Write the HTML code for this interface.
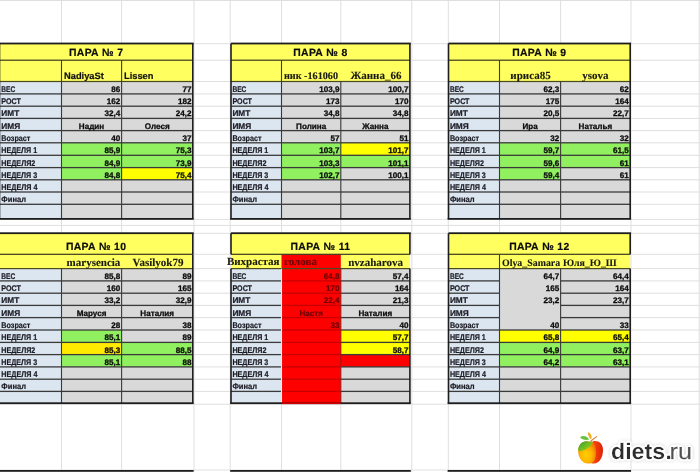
<!DOCTYPE html>
<html><head><meta charset="utf-8"><title>ПАРА</title><style>
*{margin:0;padding:0}
html,body{width:700px;height:472px;overflow:hidden;background:#fff}
svg{display:block;will-change:transform}
text{font-family:"Liberation Sans",sans-serif;text-rendering:geometricPrecision}
.ttl{font-weight:bold;font-size:10.4px;fill:#0c0c0c;letter-spacing:0.33px;stroke:#0c0c0c;stroke-width:0.2px}
.lbl{font-weight:bold;font-size:8.2px;fill:#1c1c24;stroke:#1c1c24;stroke-width:0.22px}
.num{font-weight:bold;font-size:8.1px;fill:#0c0c0c;stroke:#0c0c0c;stroke-width:0.28px}
.numr{font-weight:bold;font-size:8.1px;stroke-width:0.22px}
.nms{font-weight:bold;font-size:9.3px;fill:#111;stroke:#111;stroke-width:0.2px}
.nmr{font-family:"Liberation Serif",serif;font-weight:bold;font-size:10.2px;fill:#1a1a10;stroke:#1a1a10;stroke-width:0.12px}
.nmr2{font-family:"Liberation Serif",serif;font-weight:bold;font-size:11px;fill:#1a1a10;stroke:#1a1a10;stroke-width:0.12px}
.nmr3{font-family:"Liberation Serif",serif;font-weight:bold;font-size:9.9px;fill:#1a1a10;stroke:#1a1a10;stroke-width:0.12px}
.logo1{font-weight:bold;font-size:22.6px;fill:#2e2e2e}
.logo2{font-size:22.6px;fill:#505050;stroke:#505050;stroke-width:0.3px}
</style></head>
<body><svg width="700" height="472" viewBox="0 0 700 472">
<rect x="0" y="0" width="700" height="472" fill="#ffffff"/>
<rect x="61.00" y="0.00" width="1.00" height="472.00" fill="#dfdfdf" />
<rect x="121.10" y="0.00" width="1.00" height="472.00" fill="#dfdfdf" />
<rect x="193.50" y="0.00" width="1.00" height="472.00" fill="#dfdfdf" />
<rect x="229.70" y="0.00" width="1.00" height="472.00" fill="#dfdfdf" />
<rect x="281.00" y="0.00" width="1.00" height="472.00" fill="#dfdfdf" />
<rect x="340.30" y="0.00" width="1.00" height="472.00" fill="#dfdfdf" />
<rect x="411.30" y="0.00" width="1.00" height="472.00" fill="#dfdfdf" />
<rect x="447.80" y="0.00" width="1.00" height="472.00" fill="#dfdfdf" />
<rect x="499.00" y="0.00" width="1.00" height="472.00" fill="#dfdfdf" />
<rect x="560.10" y="0.00" width="1.00" height="472.00" fill="#dfdfdf" />
<rect x="630.50" y="0.00" width="1.00" height="472.00" fill="#dfdfdf" />
<rect x="698.70" y="0.00" width="1.00" height="472.00" fill="#dfdfdf" />
<rect x="0.00" y="0.00" width="700.00" height="1.00" fill="#dfdfdf" />
<rect x="0.00" y="43.20" width="700.00" height="1.00" fill="#dfdfdf" />
<rect x="0.00" y="59.70" width="700.00" height="1.00" fill="#dfdfdf" />
<rect x="0.00" y="81.00" width="700.00" height="1.00" fill="#dfdfdf" />
<rect x="0.00" y="93.40" width="700.00" height="1.00" fill="#dfdfdf" />
<rect x="0.00" y="105.70" width="700.00" height="1.00" fill="#dfdfdf" />
<rect x="0.00" y="117.90" width="700.00" height="1.00" fill="#dfdfdf" />
<rect x="0.00" y="130.10" width="700.00" height="1.00" fill="#dfdfdf" />
<rect x="0.00" y="142.30" width="700.00" height="1.00" fill="#dfdfdf" />
<rect x="0.00" y="154.80" width="700.00" height="1.00" fill="#dfdfdf" />
<rect x="0.00" y="167.10" width="700.00" height="1.00" fill="#dfdfdf" />
<rect x="0.00" y="179.30" width="700.00" height="1.00" fill="#dfdfdf" />
<rect x="0.00" y="191.50" width="700.00" height="1.00" fill="#dfdfdf" />
<rect x="0.00" y="203.80" width="700.00" height="1.00" fill="#dfdfdf" />
<rect x="0.00" y="218.90" width="700.00" height="1.00" fill="#dfdfdf" />
<rect x="0.00" y="224.90" width="700.00" height="1.00" fill="#dfdfdf" />
<rect x="0.00" y="232.80" width="700.00" height="1.00" fill="#dfdfdf" />
<rect x="0.00" y="253.80" width="700.00" height="1.00" fill="#dfdfdf" />
<rect x="0.00" y="268.10" width="700.00" height="1.00" fill="#dfdfdf" />
<rect x="0.00" y="280.40" width="700.00" height="1.00" fill="#dfdfdf" />
<rect x="0.00" y="292.70" width="700.00" height="1.00" fill="#dfdfdf" />
<rect x="0.00" y="304.90" width="700.00" height="1.00" fill="#dfdfdf" />
<rect x="0.00" y="317.10" width="700.00" height="1.00" fill="#dfdfdf" />
<rect x="0.00" y="329.50" width="700.00" height="1.00" fill="#dfdfdf" />
<rect x="0.00" y="341.90" width="700.00" height="1.00" fill="#dfdfdf" />
<rect x="0.00" y="354.10" width="700.00" height="1.00" fill="#dfdfdf" />
<rect x="0.00" y="366.40" width="700.00" height="1.00" fill="#dfdfdf" />
<rect x="0.00" y="378.70" width="700.00" height="1.00" fill="#dfdfdf" />
<rect x="0.00" y="390.90" width="700.00" height="1.00" fill="#dfdfdf" />
<rect x="0.00" y="403.70" width="700.00" height="1.00" fill="#dfdfdf" />
<rect x="0.00" y="469.50" width="700.00" height="1.00" fill="#dfdfdf" />
<rect x="-0.50" y="43.50" width="193.30" height="38.60" fill="#ffff5f" />
<rect x="-0.50" y="81.50" width="62.60" height="137.40" fill="#dce6f1" />
<rect x="61.50" y="81.50" width="60.70" height="13.00" fill="#d9d9d9" />
<rect x="121.60" y="81.50" width="71.20" height="13.00" fill="#d9d9d9" />
<rect x="61.50" y="93.90" width="60.70" height="12.90" fill="#d9d9d9" />
<rect x="121.60" y="93.90" width="71.20" height="12.90" fill="#d9d9d9" />
<rect x="61.50" y="106.20" width="60.70" height="12.80" fill="#d9d9d9" />
<rect x="121.60" y="106.20" width="71.20" height="12.80" fill="#d9d9d9" />
<rect x="61.50" y="118.40" width="60.70" height="12.80" fill="#d9d9d9" />
<rect x="121.60" y="118.40" width="71.20" height="12.80" fill="#d9d9d9" />
<rect x="61.50" y="130.60" width="60.70" height="12.80" fill="#d9d9d9" />
<rect x="121.60" y="130.60" width="71.20" height="12.80" fill="#d9d9d9" />
<rect x="61.50" y="142.80" width="60.70" height="13.10" fill="#91f060" />
<rect x="121.60" y="142.80" width="71.20" height="13.10" fill="#91f060" />
<rect x="61.50" y="155.30" width="60.70" height="12.90" fill="#91f060" />
<rect x="121.60" y="155.30" width="71.20" height="12.90" fill="#91f060" />
<rect x="61.50" y="167.60" width="60.70" height="12.80" fill="#91f060" />
<rect x="121.60" y="167.60" width="71.20" height="12.80" fill="#ffff00" />
<rect x="61.50" y="179.80" width="60.70" height="12.80" fill="#d9d9d9" />
<rect x="121.60" y="179.80" width="71.20" height="12.80" fill="#d9d9d9" />
<rect x="61.50" y="192.00" width="60.70" height="12.90" fill="#d9d9d9" />
<rect x="121.60" y="192.00" width="71.20" height="12.90" fill="#d9d9d9" />
<rect x="61.50" y="204.30" width="60.70" height="14.60" fill="#d9d9d9" />
<rect x="121.60" y="204.30" width="71.20" height="14.60" fill="#d9d9d9" />
<rect x="-0.50" y="93.25" width="62.00" height="1.30" fill="#3a3a3a" />
<rect x="61.50" y="93.25" width="60.10" height="1.30" fill="#3a3a3a" />
<rect x="121.60" y="93.25" width="71.20" height="1.30" fill="#3a3a3a" />
<rect x="-0.50" y="105.55" width="62.00" height="1.30" fill="#3a3a3a" />
<rect x="61.50" y="105.55" width="60.10" height="1.30" fill="#3a3a3a" />
<rect x="121.60" y="105.55" width="71.20" height="1.30" fill="#3a3a3a" />
<rect x="-0.50" y="117.75" width="62.00" height="1.30" fill="#3a3a3a" />
<rect x="61.50" y="117.75" width="60.10" height="1.30" fill="#3a3a3a" />
<rect x="121.60" y="117.75" width="71.20" height="1.30" fill="#3a3a3a" />
<rect x="-0.50" y="129.95" width="62.00" height="1.30" fill="#3a3a3a" />
<rect x="61.50" y="129.95" width="60.10" height="1.30" fill="#3a3a3a" />
<rect x="121.60" y="129.95" width="71.20" height="1.30" fill="#3a3a3a" />
<rect x="-0.50" y="142.15" width="62.00" height="1.30" fill="#3a3a3a" />
<rect x="61.50" y="142.15" width="60.10" height="1.30" fill="#3a3a3a" />
<rect x="121.60" y="142.15" width="71.20" height="1.30" fill="#3a3a3a" />
<rect x="-0.50" y="154.65" width="62.00" height="1.30" fill="#3a3a3a" />
<rect x="61.50" y="154.65" width="60.10" height="1.30" fill="#3a3a3a" />
<rect x="121.60" y="154.65" width="71.20" height="1.30" fill="#3a3a3a" />
<rect x="-0.50" y="166.95" width="62.00" height="1.30" fill="#3a3a3a" />
<rect x="61.50" y="166.95" width="60.10" height="1.30" fill="#3a3a3a" />
<rect x="121.60" y="166.95" width="71.20" height="1.30" fill="#3a3a3a" />
<rect x="-0.50" y="179.15" width="62.00" height="1.30" fill="#3a3a3a" />
<rect x="61.50" y="179.15" width="60.10" height="1.30" fill="#3a3a3a" />
<rect x="121.60" y="179.15" width="71.20" height="1.30" fill="#3a3a3a" />
<rect x="-0.50" y="191.35" width="62.00" height="1.30" fill="#3a3a3a" />
<rect x="61.50" y="191.35" width="60.10" height="1.30" fill="#3a3a3a" />
<rect x="121.60" y="191.35" width="71.20" height="1.30" fill="#3a3a3a" />
<rect x="-0.50" y="203.65" width="62.00" height="1.30" fill="#3a3a3a" />
<rect x="61.50" y="203.65" width="60.10" height="1.30" fill="#3a3a3a" />
<rect x="121.60" y="203.65" width="71.20" height="1.30" fill="#3a3a3a" />
<rect x="-0.50" y="80.90" width="193.30" height="1.20" fill="#4a4a20" />
<rect x="-0.50" y="59.60" width="193.30" height="1.20" fill="#3a3a20" />
<rect x="60.95" y="60.20" width="1.10" height="158.70" fill="#3a3a3a" />
<rect x="121.05" y="60.20" width="1.10" height="158.70" fill="#3a3a3a" />
<rect x="-0.50" y="42.60" width="194.20" height="1.80" fill="#1e1e1e" />
<rect x="-1.40" y="218.00" width="195.10" height="1.80" fill="#1e1e1e" />
<rect x="-1.30" y="43.50" width="1.60" height="175.40" fill="#1e1e1e" />
<rect x="192.00" y="43.50" width="1.60" height="175.40" fill="#1e1e1e" />
<rect x="231.00" y="43.50" width="178.90" height="38.60" fill="#ffff5f" />
<rect x="231.00" y="81.50" width="51.10" height="137.40" fill="#dce6f1" />
<rect x="281.50" y="81.50" width="59.90" height="13.00" fill="#d9d9d9" />
<rect x="340.80" y="81.50" width="69.10" height="13.00" fill="#d9d9d9" />
<rect x="281.50" y="93.90" width="59.90" height="12.90" fill="#d9d9d9" />
<rect x="340.80" y="93.90" width="69.10" height="12.90" fill="#d9d9d9" />
<rect x="281.50" y="106.20" width="59.90" height="12.80" fill="#d9d9d9" />
<rect x="340.80" y="106.20" width="69.10" height="12.80" fill="#d9d9d9" />
<rect x="281.50" y="118.40" width="59.90" height="12.80" fill="#d9d9d9" />
<rect x="340.80" y="118.40" width="69.10" height="12.80" fill="#d9d9d9" />
<rect x="281.50" y="130.60" width="59.90" height="12.80" fill="#d9d9d9" />
<rect x="340.80" y="130.60" width="69.10" height="12.80" fill="#d9d9d9" />
<rect x="281.50" y="142.80" width="59.90" height="13.10" fill="#91f060" />
<rect x="340.80" y="142.80" width="69.10" height="13.10" fill="#ffff00" />
<rect x="281.50" y="155.30" width="59.90" height="12.90" fill="#91f060" />
<rect x="340.80" y="155.30" width="69.10" height="12.90" fill="#91f060" />
<rect x="281.50" y="167.60" width="59.90" height="12.80" fill="#91f060" />
<rect x="340.80" y="167.60" width="69.10" height="12.80" fill="#d9d9d9" />
<rect x="281.50" y="179.80" width="59.90" height="12.80" fill="#d9d9d9" />
<rect x="340.80" y="179.80" width="69.10" height="12.80" fill="#d9d9d9" />
<rect x="281.50" y="192.00" width="59.90" height="12.90" fill="#d9d9d9" />
<rect x="340.80" y="192.00" width="69.10" height="12.90" fill="#d9d9d9" />
<rect x="281.50" y="204.30" width="59.90" height="14.60" fill="#d9d9d9" />
<rect x="340.80" y="204.30" width="69.10" height="14.60" fill="#d9d9d9" />
<rect x="231.00" y="93.25" width="50.50" height="1.30" fill="#3a3a3a" />
<rect x="281.50" y="93.25" width="59.30" height="1.30" fill="#3a3a3a" />
<rect x="340.80" y="93.25" width="69.10" height="1.30" fill="#3a3a3a" />
<rect x="231.00" y="105.55" width="50.50" height="1.30" fill="#3a3a3a" />
<rect x="281.50" y="105.55" width="59.30" height="1.30" fill="#3a3a3a" />
<rect x="340.80" y="105.55" width="69.10" height="1.30" fill="#3a3a3a" />
<rect x="231.00" y="117.75" width="50.50" height="1.30" fill="#3a3a3a" />
<rect x="281.50" y="117.75" width="59.30" height="1.30" fill="#3a3a3a" />
<rect x="340.80" y="117.75" width="69.10" height="1.30" fill="#3a3a3a" />
<rect x="231.00" y="129.95" width="50.50" height="1.30" fill="#3a3a3a" />
<rect x="281.50" y="129.95" width="59.30" height="1.30" fill="#3a3a3a" />
<rect x="340.80" y="129.95" width="69.10" height="1.30" fill="#3a3a3a" />
<rect x="231.00" y="142.15" width="50.50" height="1.30" fill="#3a3a3a" />
<rect x="281.50" y="142.15" width="59.30" height="1.30" fill="#3a3a3a" />
<rect x="340.80" y="142.15" width="69.10" height="1.30" fill="#3a3a3a" />
<rect x="231.00" y="154.65" width="50.50" height="1.30" fill="#3a3a3a" />
<rect x="281.50" y="154.65" width="59.30" height="1.30" fill="#3a3a3a" />
<rect x="340.80" y="154.65" width="69.10" height="1.30" fill="#3a3a3a" />
<rect x="231.00" y="166.95" width="50.50" height="1.30" fill="#3a3a3a" />
<rect x="281.50" y="166.95" width="59.30" height="1.30" fill="#3a3a3a" />
<rect x="340.80" y="166.95" width="69.10" height="1.30" fill="#3a3a3a" />
<rect x="231.00" y="179.15" width="50.50" height="1.30" fill="#3a3a3a" />
<rect x="281.50" y="179.15" width="59.30" height="1.30" fill="#3a3a3a" />
<rect x="340.80" y="179.15" width="69.10" height="1.30" fill="#3a3a3a" />
<rect x="231.00" y="191.35" width="50.50" height="1.30" fill="#3a3a3a" />
<rect x="281.50" y="191.35" width="59.30" height="1.30" fill="#3a3a3a" />
<rect x="340.80" y="191.35" width="69.10" height="1.30" fill="#3a3a3a" />
<rect x="231.00" y="203.65" width="50.50" height="1.30" fill="#3a3a3a" />
<rect x="281.50" y="203.65" width="59.30" height="1.30" fill="#3a3a3a" />
<rect x="340.80" y="203.65" width="69.10" height="1.30" fill="#3a3a3a" />
<rect x="231.00" y="80.90" width="178.90" height="1.20" fill="#4a4a20" />
<rect x="231.00" y="59.60" width="178.90" height="1.20" fill="#3a3a20" />
<rect x="280.95" y="60.20" width="1.10" height="158.70" fill="#3a3a3a" />
<rect x="340.25" y="81.50" width="1.10" height="137.40" fill="#3a3a3a" />
<rect x="231.00" y="42.60" width="179.80" height="1.80" fill="#1e1e1e" />
<rect x="230.10" y="218.00" width="180.70" height="1.80" fill="#1e1e1e" />
<rect x="230.20" y="43.50" width="1.60" height="175.40" fill="#1e1e1e" />
<rect x="409.10" y="43.50" width="1.60" height="175.40" fill="#1e1e1e" />
<rect x="448.50" y="43.50" width="181.70" height="38.60" fill="#ffff5f" />
<rect x="448.50" y="81.50" width="51.60" height="137.40" fill="#dce6f1" />
<rect x="499.50" y="81.50" width="61.70" height="13.00" fill="#d9d9d9" />
<rect x="560.60" y="81.50" width="69.60" height="13.00" fill="#d9d9d9" />
<rect x="499.50" y="93.90" width="61.70" height="12.90" fill="#d9d9d9" />
<rect x="560.60" y="93.90" width="69.60" height="12.90" fill="#d9d9d9" />
<rect x="499.50" y="106.20" width="61.70" height="12.80" fill="#d9d9d9" />
<rect x="560.60" y="106.20" width="69.60" height="12.80" fill="#d9d9d9" />
<rect x="499.50" y="118.40" width="61.70" height="12.80" fill="#d9d9d9" />
<rect x="560.60" y="118.40" width="69.60" height="12.80" fill="#d9d9d9" />
<rect x="499.50" y="130.60" width="61.70" height="12.80" fill="#d9d9d9" />
<rect x="560.60" y="130.60" width="69.60" height="12.80" fill="#d9d9d9" />
<rect x="499.50" y="142.80" width="61.70" height="13.10" fill="#91f060" />
<rect x="560.60" y="142.80" width="69.60" height="13.10" fill="#91f060" />
<rect x="499.50" y="155.30" width="61.70" height="12.90" fill="#91f060" />
<rect x="560.60" y="155.30" width="69.60" height="12.90" fill="#91f060" />
<rect x="499.50" y="167.60" width="61.70" height="12.80" fill="#91f060" />
<rect x="560.60" y="167.60" width="69.60" height="12.80" fill="#d9d9d9" />
<rect x="499.50" y="179.80" width="61.70" height="12.80" fill="#d9d9d9" />
<rect x="560.60" y="179.80" width="69.60" height="12.80" fill="#d9d9d9" />
<rect x="499.50" y="192.00" width="61.70" height="12.90" fill="#d9d9d9" />
<rect x="560.60" y="192.00" width="69.60" height="12.90" fill="#d9d9d9" />
<rect x="499.50" y="204.30" width="61.70" height="14.60" fill="#d9d9d9" />
<rect x="560.60" y="204.30" width="69.60" height="14.60" fill="#d9d9d9" />
<rect x="448.50" y="93.25" width="51.00" height="1.30" fill="#3a3a3a" />
<rect x="499.50" y="93.25" width="61.10" height="1.30" fill="#3a3a3a" />
<rect x="560.60" y="93.25" width="69.60" height="1.30" fill="#3a3a3a" />
<rect x="448.50" y="105.55" width="51.00" height="1.30" fill="#3a3a3a" />
<rect x="499.50" y="105.55" width="61.10" height="1.30" fill="#3a3a3a" />
<rect x="560.60" y="105.55" width="69.60" height="1.30" fill="#3a3a3a" />
<rect x="448.50" y="117.75" width="51.00" height="1.30" fill="#3a3a3a" />
<rect x="499.50" y="117.75" width="61.10" height="1.30" fill="#3a3a3a" />
<rect x="560.60" y="117.75" width="69.60" height="1.30" fill="#3a3a3a" />
<rect x="448.50" y="129.95" width="51.00" height="1.30" fill="#3a3a3a" />
<rect x="499.50" y="129.95" width="61.10" height="1.30" fill="#3a3a3a" />
<rect x="560.60" y="129.95" width="69.60" height="1.30" fill="#3a3a3a" />
<rect x="448.50" y="142.15" width="51.00" height="1.30" fill="#3a3a3a" />
<rect x="499.50" y="142.15" width="61.10" height="1.30" fill="#3a3a3a" />
<rect x="560.60" y="142.15" width="69.60" height="1.30" fill="#3a3a3a" />
<rect x="448.50" y="154.65" width="51.00" height="1.30" fill="#3a3a3a" />
<rect x="499.50" y="154.65" width="61.10" height="1.30" fill="#3a3a3a" />
<rect x="560.60" y="154.65" width="69.60" height="1.30" fill="#3a3a3a" />
<rect x="448.50" y="166.95" width="51.00" height="1.30" fill="#3a3a3a" />
<rect x="499.50" y="166.95" width="61.10" height="1.30" fill="#3a3a3a" />
<rect x="560.60" y="166.95" width="69.60" height="1.30" fill="#3a3a3a" />
<rect x="448.50" y="179.15" width="51.00" height="1.30" fill="#3a3a3a" />
<rect x="499.50" y="179.15" width="61.10" height="1.30" fill="#3a3a3a" />
<rect x="560.60" y="179.15" width="69.60" height="1.30" fill="#3a3a3a" />
<rect x="448.50" y="191.35" width="51.00" height="1.30" fill="#3a3a3a" />
<rect x="499.50" y="191.35" width="61.10" height="1.30" fill="#3a3a3a" />
<rect x="560.60" y="191.35" width="69.60" height="1.30" fill="#3a3a3a" />
<rect x="448.50" y="203.65" width="51.00" height="1.30" fill="#3a3a3a" />
<rect x="499.50" y="203.65" width="61.10" height="1.30" fill="#3a3a3a" />
<rect x="560.60" y="203.65" width="69.60" height="1.30" fill="#3a3a3a" />
<rect x="448.50" y="80.90" width="181.70" height="1.20" fill="#4a4a20" />
<rect x="448.50" y="59.60" width="181.70" height="1.20" fill="#3a3a20" />
<rect x="498.95" y="60.20" width="1.10" height="158.70" fill="#3a3a3a" />
<rect x="560.05" y="81.50" width="1.10" height="137.40" fill="#3a3a3a" />
<rect x="448.50" y="42.60" width="182.60" height="1.80" fill="#1e1e1e" />
<rect x="447.60" y="218.00" width="183.50" height="1.80" fill="#1e1e1e" />
<rect x="447.70" y="43.50" width="1.60" height="175.40" fill="#1e1e1e" />
<rect x="629.40" y="43.50" width="1.60" height="175.40" fill="#1e1e1e" />
<rect x="-0.50" y="233.20" width="193.30" height="36.00" fill="#ffff5f" />
<rect x="-0.50" y="268.60" width="62.60" height="134.60" fill="#dce6f1" />
<rect x="61.50" y="268.60" width="60.70" height="12.90" fill="#d9d9d9" />
<rect x="121.60" y="268.60" width="71.20" height="12.90" fill="#d9d9d9" />
<rect x="61.50" y="280.90" width="60.70" height="12.90" fill="#d9d9d9" />
<rect x="121.60" y="280.90" width="71.20" height="12.90" fill="#d9d9d9" />
<rect x="61.50" y="293.20" width="60.70" height="12.80" fill="#d9d9d9" />
<rect x="121.60" y="293.20" width="71.20" height="12.80" fill="#d9d9d9" />
<rect x="61.50" y="305.40" width="60.70" height="12.80" fill="#d9d9d9" />
<rect x="121.60" y="305.40" width="71.20" height="12.80" fill="#d9d9d9" />
<rect x="61.50" y="317.60" width="60.70" height="13.00" fill="#d9d9d9" />
<rect x="121.60" y="317.60" width="71.20" height="13.00" fill="#d9d9d9" />
<rect x="61.50" y="330.00" width="60.70" height="13.00" fill="#91f060" />
<rect x="121.60" y="330.00" width="71.20" height="13.00" fill="#d9d9d9" />
<rect x="61.50" y="342.40" width="60.70" height="12.80" fill="#ffea00" />
<rect x="121.60" y="342.40" width="71.20" height="12.80" fill="#91f060" />
<rect x="61.50" y="354.60" width="60.70" height="12.90" fill="#91f060" />
<rect x="121.60" y="354.60" width="71.20" height="12.90" fill="#91f060" />
<rect x="61.50" y="366.90" width="60.70" height="12.90" fill="#d9d9d9" />
<rect x="121.60" y="366.90" width="71.20" height="12.90" fill="#d9d9d9" />
<rect x="61.50" y="379.20" width="60.70" height="12.80" fill="#d9d9d9" />
<rect x="121.60" y="379.20" width="71.20" height="12.80" fill="#d9d9d9" />
<rect x="61.50" y="391.40" width="60.70" height="11.80" fill="#d9d9d9" />
<rect x="121.60" y="391.40" width="71.20" height="11.80" fill="#d9d9d9" />
<rect x="-0.50" y="280.25" width="62.00" height="1.30" fill="#3a3a3a" />
<rect x="61.50" y="280.25" width="60.10" height="1.30" fill="#3a3a3a" />
<rect x="121.60" y="280.25" width="71.20" height="1.30" fill="#3a3a3a" />
<rect x="-0.50" y="292.55" width="62.00" height="1.30" fill="#3a3a3a" />
<rect x="61.50" y="292.55" width="60.10" height="1.30" fill="#3a3a3a" />
<rect x="121.60" y="292.55" width="71.20" height="1.30" fill="#3a3a3a" />
<rect x="-0.50" y="304.75" width="62.00" height="1.30" fill="#3a3a3a" />
<rect x="61.50" y="304.75" width="60.10" height="1.30" fill="#3a3a3a" />
<rect x="121.60" y="304.75" width="71.20" height="1.30" fill="#3a3a3a" />
<rect x="-0.50" y="316.95" width="62.00" height="1.30" fill="#3a3a3a" />
<rect x="61.50" y="316.95" width="60.10" height="1.30" fill="#3a3a3a" />
<rect x="121.60" y="316.95" width="71.20" height="1.30" fill="#3a3a3a" />
<rect x="-0.50" y="329.35" width="62.00" height="1.30" fill="#3a3a3a" />
<rect x="61.50" y="329.35" width="60.10" height="1.30" fill="#3a3a3a" />
<rect x="121.60" y="329.35" width="71.20" height="1.30" fill="#3a3a3a" />
<rect x="-0.50" y="341.75" width="62.00" height="1.30" fill="#3a3a3a" />
<rect x="61.50" y="341.75" width="60.10" height="1.30" fill="#3a3a3a" />
<rect x="121.60" y="341.75" width="71.20" height="1.30" fill="#3a3a3a" />
<rect x="-0.50" y="353.95" width="62.00" height="1.30" fill="#3a3a3a" />
<rect x="61.50" y="353.95" width="60.10" height="1.30" fill="#3a3a3a" />
<rect x="121.60" y="353.95" width="71.20" height="1.30" fill="#3a3a3a" />
<rect x="-0.50" y="366.25" width="62.00" height="1.30" fill="#3a3a3a" />
<rect x="61.50" y="366.25" width="60.10" height="1.30" fill="#3a3a3a" />
<rect x="121.60" y="366.25" width="71.20" height="1.30" fill="#3a3a3a" />
<rect x="-0.50" y="378.55" width="62.00" height="1.30" fill="#3a3a3a" />
<rect x="61.50" y="378.55" width="60.10" height="1.30" fill="#3a3a3a" />
<rect x="121.60" y="378.55" width="71.20" height="1.30" fill="#3a3a3a" />
<rect x="-0.50" y="390.75" width="62.00" height="1.30" fill="#3a3a3a" />
<rect x="61.50" y="390.75" width="60.10" height="1.30" fill="#3a3a3a" />
<rect x="121.60" y="390.75" width="71.20" height="1.30" fill="#3a3a3a" />
<rect x="-0.50" y="268.00" width="193.30" height="1.20" fill="#4a4a20" />
<rect x="-0.50" y="253.70" width="193.30" height="1.20" fill="#3a3a20" />
<rect x="60.95" y="268.60" width="1.10" height="134.60" fill="#3a3a3a" />
<rect x="121.05" y="268.60" width="1.10" height="134.60" fill="#3a3a3a" />
<rect x="-0.50" y="232.30" width="194.20" height="1.80" fill="#1e1e1e" />
<rect x="-1.40" y="402.30" width="195.10" height="1.80" fill="#1e1e1e" />
<rect x="-1.70" y="233.20" width="1.60" height="170.00" fill="#1e1e1e" />
<rect x="192.00" y="254.30" width="1.60" height="148.90" fill="#1e1e1e" />
<rect x="192.00" y="233.20" width="1.60" height="21.10" fill="#1e1e1e" />
<rect x="231.00" y="233.20" width="178.90" height="36.00" fill="#ffff5f" />
<rect x="231.00" y="268.60" width="51.10" height="134.60" fill="#dce6f1" />
<rect x="281.50" y="268.60" width="59.90" height="12.90" fill="#ff0000" />
<rect x="340.80" y="268.60" width="69.10" height="12.90" fill="#d9d9d9" />
<rect x="281.50" y="280.90" width="59.90" height="12.90" fill="#ff0000" />
<rect x="340.80" y="280.90" width="69.10" height="12.90" fill="#d9d9d9" />
<rect x="281.50" y="293.20" width="59.90" height="12.80" fill="#ff0000" />
<rect x="340.80" y="293.20" width="69.10" height="12.80" fill="#d9d9d9" />
<rect x="281.50" y="305.40" width="59.90" height="12.80" fill="#ff0000" />
<rect x="340.80" y="305.40" width="69.10" height="12.80" fill="#d9d9d9" />
<rect x="281.50" y="317.60" width="59.90" height="13.00" fill="#ff0000" />
<rect x="340.80" y="317.60" width="69.10" height="13.00" fill="#d9d9d9" />
<rect x="281.50" y="330.00" width="59.90" height="13.00" fill="#ff0000" />
<rect x="340.80" y="330.00" width="69.10" height="13.00" fill="#ffff00" />
<rect x="281.50" y="342.40" width="59.90" height="12.80" fill="#ff0000" />
<rect x="340.80" y="342.40" width="69.10" height="12.80" fill="#ffff00" />
<rect x="281.50" y="354.60" width="59.90" height="12.90" fill="#ff0000" />
<rect x="340.80" y="354.60" width="69.10" height="12.90" fill="#ff0000" />
<rect x="281.50" y="366.90" width="59.90" height="12.90" fill="#ff0000" />
<rect x="340.80" y="366.90" width="69.10" height="12.90" fill="#d9d9d9" />
<rect x="281.50" y="379.20" width="59.90" height="12.80" fill="#ff0000" />
<rect x="340.80" y="379.20" width="69.10" height="12.80" fill="#d9d9d9" />
<rect x="281.50" y="391.40" width="59.90" height="11.80" fill="#ff0000" />
<rect x="340.80" y="391.40" width="69.10" height="11.80" fill="#d9d9d9" />
<rect x="281.50" y="254.30" width="59.30" height="14.30" fill="#ff0000" />
<rect x="231.00" y="280.25" width="50.50" height="1.30" fill="#3a3a3a" />
<rect x="281.50" y="280.25" width="59.30" height="1.30" fill="#c80000" />
<rect x="340.80" y="280.25" width="69.10" height="1.30" fill="#3a3a3a" />
<rect x="231.00" y="292.55" width="50.50" height="1.30" fill="#3a3a3a" />
<rect x="281.50" y="292.55" width="59.30" height="1.30" fill="#c80000" />
<rect x="340.80" y="292.55" width="69.10" height="1.30" fill="#3a3a3a" />
<rect x="231.00" y="304.75" width="50.50" height="1.30" fill="#3a3a3a" />
<rect x="281.50" y="304.75" width="59.30" height="1.30" fill="#c80000" />
<rect x="340.80" y="304.75" width="69.10" height="1.30" fill="#3a3a3a" />
<rect x="231.00" y="316.95" width="50.50" height="1.30" fill="#3a3a3a" />
<rect x="281.50" y="316.95" width="59.30" height="1.30" fill="#c80000" />
<rect x="340.80" y="316.95" width="69.10" height="1.30" fill="#3a3a3a" />
<rect x="231.00" y="329.35" width="50.50" height="1.30" fill="#3a3a3a" />
<rect x="281.50" y="329.35" width="59.30" height="1.30" fill="#c80000" />
<rect x="340.80" y="329.35" width="69.10" height="1.30" fill="#3a3a3a" />
<rect x="231.00" y="341.75" width="50.50" height="1.30" fill="#3a3a3a" />
<rect x="281.50" y="341.75" width="59.30" height="1.30" fill="#c80000" />
<rect x="340.80" y="341.75" width="69.10" height="1.30" fill="#3a3a3a" />
<rect x="231.00" y="353.95" width="50.50" height="1.30" fill="#3a3a3a" />
<rect x="281.50" y="353.95" width="59.30" height="1.30" fill="#c80000" />
<rect x="340.80" y="353.95" width="69.10" height="1.30" fill="#3a3a3a" />
<rect x="231.00" y="366.25" width="50.50" height="1.30" fill="#3a3a3a" />
<rect x="281.50" y="366.25" width="59.30" height="1.30" fill="#c80000" />
<rect x="340.80" y="366.25" width="69.10" height="1.30" fill="#3a3a3a" />
<rect x="231.00" y="378.55" width="50.50" height="1.30" fill="#3a3a3a" />
<rect x="281.50" y="378.55" width="59.30" height="1.30" fill="#c80000" />
<rect x="340.80" y="378.55" width="69.10" height="1.30" fill="#3a3a3a" />
<rect x="231.00" y="390.75" width="50.50" height="1.30" fill="#3a3a3a" />
<rect x="281.50" y="390.75" width="59.30" height="1.30" fill="#c80000" />
<rect x="340.80" y="390.75" width="69.10" height="1.30" fill="#3a3a3a" />
<rect x="231.00" y="268.00" width="178.90" height="1.20" fill="#4a4a20" />
<rect x="231.00" y="253.70" width="178.90" height="1.20" fill="#3a3a20" />
<rect x="280.95" y="268.60" width="1.10" height="134.60" fill="#e8e8f0" />
<rect x="340.25" y="268.60" width="1.10" height="134.60" fill="#b01010" />
<rect x="231.00" y="232.30" width="179.80" height="1.80" fill="#1e1e1e" />
<rect x="230.10" y="402.30" width="180.70" height="1.80" fill="#1e1e1e" />
<rect x="281.80" y="402.30" width="58.70" height="1.80" fill="#ff0000" />
<rect x="281.80" y="402.30" width="58.70" height="1.20" fill="#a00000" />
<rect x="230.20" y="268.60" width="1.60" height="134.60" fill="#1e1e1e" />
<rect x="409.10" y="268.60" width="1.60" height="134.60" fill="#1e1e1e" />
<rect x="409.10" y="233.20" width="1.60" height="21.10" fill="#1e1e1e" />
<rect x="230.20" y="233.20" width="1.60" height="21.10" fill="#1e1e1e" />
<rect x="448.50" y="233.20" width="181.70" height="36.00" fill="#ffff5f" />
<rect x="448.50" y="268.60" width="51.60" height="134.60" fill="#dce6f1" />
<rect x="499.50" y="268.60" width="61.70" height="12.90" fill="#d9d9d9" />
<rect x="560.60" y="268.60" width="69.60" height="12.90" fill="#d9d9d9" />
<rect x="499.50" y="280.90" width="61.70" height="12.90" fill="#d9d9d9" />
<rect x="560.60" y="280.90" width="69.60" height="12.90" fill="#d9d9d9" />
<rect x="499.50" y="293.20" width="61.70" height="12.80" fill="#d9d9d9" />
<rect x="560.60" y="293.20" width="69.60" height="12.80" fill="#d9d9d9" />
<rect x="499.50" y="305.40" width="61.70" height="12.80" fill="#d9d9d9" />
<rect x="560.60" y="305.40" width="69.60" height="12.80" fill="#d9d9d9" />
<rect x="499.50" y="317.60" width="61.70" height="13.00" fill="#d9d9d9" />
<rect x="560.60" y="317.60" width="69.60" height="13.00" fill="#d9d9d9" />
<rect x="499.50" y="330.00" width="61.70" height="13.00" fill="#ffff00" />
<rect x="560.60" y="330.00" width="69.60" height="13.00" fill="#ffff00" />
<rect x="499.50" y="342.40" width="61.70" height="12.80" fill="#91f060" />
<rect x="560.60" y="342.40" width="69.60" height="12.80" fill="#91f060" />
<rect x="499.50" y="354.60" width="61.70" height="12.90" fill="#91f060" />
<rect x="560.60" y="354.60" width="69.60" height="12.90" fill="#91f060" />
<rect x="499.50" y="366.90" width="61.70" height="12.90" fill="#d9d9d9" />
<rect x="560.60" y="366.90" width="69.60" height="12.90" fill="#d9d9d9" />
<rect x="499.50" y="379.20" width="61.70" height="12.80" fill="#d9d9d9" />
<rect x="560.60" y="379.20" width="69.60" height="12.80" fill="#d9d9d9" />
<rect x="499.50" y="391.40" width="61.70" height="11.80" fill="#d9d9d9" />
<rect x="560.60" y="391.40" width="69.60" height="11.80" fill="#d9d9d9" />
<rect x="448.50" y="280.25" width="51.00" height="1.30" fill="#3a3a3a" />
<rect x="560.60" y="280.25" width="69.60" height="1.30" fill="#3a3a3a" />
<rect x="448.50" y="292.55" width="51.00" height="1.30" fill="#3a3a3a" />
<rect x="560.60" y="292.55" width="69.60" height="1.30" fill="#3a3a3a" />
<rect x="448.50" y="304.75" width="51.00" height="1.30" fill="#3a3a3a" />
<rect x="560.60" y="304.75" width="69.60" height="1.30" fill="#3a3a3a" />
<rect x="448.50" y="316.95" width="51.00" height="1.30" fill="#3a3a3a" />
<rect x="560.60" y="316.95" width="69.60" height="1.30" fill="#3a3a3a" />
<rect x="448.50" y="329.35" width="51.00" height="1.30" fill="#3a3a3a" />
<rect x="499.50" y="329.35" width="61.10" height="1.30" fill="#3a3a3a" />
<rect x="560.60" y="329.35" width="69.60" height="1.30" fill="#3a3a3a" />
<rect x="448.50" y="341.75" width="51.00" height="1.30" fill="#3a3a3a" />
<rect x="499.50" y="341.75" width="61.10" height="1.30" fill="#3a3a3a" />
<rect x="560.60" y="341.75" width="69.60" height="1.30" fill="#3a3a3a" />
<rect x="448.50" y="353.95" width="51.00" height="1.30" fill="#3a3a3a" />
<rect x="499.50" y="353.95" width="61.10" height="1.30" fill="#3a3a3a" />
<rect x="560.60" y="353.95" width="69.60" height="1.30" fill="#3a3a3a" />
<rect x="448.50" y="366.25" width="51.00" height="1.30" fill="#3a3a3a" />
<rect x="499.50" y="366.25" width="61.10" height="1.30" fill="#3a3a3a" />
<rect x="560.60" y="366.25" width="69.60" height="1.30" fill="#3a3a3a" />
<rect x="448.50" y="378.55" width="51.00" height="1.30" fill="#3a3a3a" />
<rect x="499.50" y="378.55" width="61.10" height="1.30" fill="#3a3a3a" />
<rect x="560.60" y="378.55" width="69.60" height="1.30" fill="#3a3a3a" />
<rect x="448.50" y="390.75" width="51.00" height="1.30" fill="#3a3a3a" />
<rect x="499.50" y="390.75" width="61.10" height="1.30" fill="#3a3a3a" />
<rect x="560.60" y="390.75" width="69.60" height="1.30" fill="#3a3a3a" />
<rect x="448.50" y="268.00" width="181.70" height="1.20" fill="#4a4a20" />
<rect x="448.50" y="253.70" width="181.70" height="1.20" fill="#3a3a20" />
<rect x="498.95" y="254.30" width="1.10" height="148.90" fill="#3a3a3a" />
<rect x="560.05" y="268.60" width="1.10" height="134.60" fill="#3a3a3a" />
<rect x="448.50" y="232.30" width="182.60" height="1.80" fill="#1e1e1e" />
<rect x="447.60" y="402.30" width="183.50" height="1.80" fill="#1e1e1e" />
<rect x="447.70" y="233.20" width="1.60" height="170.00" fill="#1e1e1e" />
<rect x="629.40" y="268.60" width="1.60" height="134.60" fill="#1e1e1e" />
<rect x="629.40" y="233.20" width="1.60" height="21.10" fill="#1e1e1e" />
<rect x="0.00" y="470.00" width="193.60" height="1.80" fill="#1e1e1e" />
<rect x="230.20" y="470.00" width="180.60" height="1.80" fill="#1e1e1e" />
<rect x="447.60" y="470.00" width="183.40" height="1.80" fill="#1e1e1e" />
<text x="96.15" y="56.40" class="ttl" text-anchor="middle">ПАРА № 7</text>
<text x="64.00" y="78.80" class="nms">NadiyaSt</text>
<text x="124.00" y="78.80" class="nms">Lissen</text>
<text x="1.30" y="91.90" class="lbl" textLength="14.0" lengthAdjust="spacingAndGlyphs">ВЕС</text>
<text x="120.20" y="91.90" class="num" text-anchor="end">86</text>
<text x="191.40" y="91.90" class="num" text-anchor="end">77</text>
<text x="1.30" y="104.20" class="lbl" textLength="19.6" lengthAdjust="spacingAndGlyphs">РОСТ</text>
<text x="120.20" y="104.20" class="num" text-anchor="end">162</text>
<text x="191.40" y="104.20" class="num" text-anchor="end">182</text>
<text x="1.30" y="116.40" class="lbl" textLength="17.9" lengthAdjust="spacingAndGlyphs">ИМТ</text>
<text x="120.20" y="116.40" class="num" text-anchor="end">32,4</text>
<text x="191.40" y="116.40" class="num" text-anchor="end">24,2</text>
<text x="1.30" y="128.60" class="lbl" textLength="18.9" lengthAdjust="spacingAndGlyphs">ИМЯ</text>
<text x="91.55" y="128.60" class="num" text-anchor="middle">Надин</text>
<text x="157.20" y="128.60" class="num" text-anchor="middle">Олеся</text>
<text x="1.30" y="140.80" class="lbl" textLength="29.1" lengthAdjust="spacingAndGlyphs">Возраст</text>
<text x="120.20" y="140.80" class="num" text-anchor="end">40</text>
<text x="191.40" y="140.80" class="num" text-anchor="end">37</text>
<text x="1.30" y="153.30" class="lbl" textLength="35.9" lengthAdjust="spacingAndGlyphs">НЕДЕЛЯ 1</text>
<text x="120.20" y="153.30" class="num" text-anchor="end">85,9</text>
<text x="191.40" y="153.30" class="num" text-anchor="end">75,3</text>
<text x="1.30" y="165.60" class="lbl" textLength="34.0" lengthAdjust="spacingAndGlyphs">НЕДЕЛЯ2</text>
<text x="120.20" y="165.60" class="num" text-anchor="end">84,9</text>
<text x="191.40" y="165.60" class="num" text-anchor="end">73,9</text>
<text x="1.30" y="177.80" class="lbl" textLength="35.9" lengthAdjust="spacingAndGlyphs">НЕДЕЛЯ 3</text>
<text x="120.20" y="177.80" class="num" text-anchor="end">84,8</text>
<text x="191.40" y="177.80" class="num" text-anchor="end">75,4</text>
<text x="1.30" y="190.00" class="lbl" textLength="36.1" lengthAdjust="spacingAndGlyphs">НЕДЕЛЯ 4</text>
<text x="1.30" y="202.30" class="lbl" textLength="24.7" lengthAdjust="spacingAndGlyphs">Финал</text>
<text x="320.45" y="56.40" class="ttl" text-anchor="middle">ПАРА № 8</text>
<text x="311.00" y="78.70" class="nmr" text-anchor="middle">ник -161060</text>
<text x="376.00" y="78.70" class="nmr2" text-anchor="middle">Жанна_66</text>
<text x="232.40" y="91.90" class="lbl" textLength="14.0" lengthAdjust="spacingAndGlyphs">ВЕС</text>
<text x="339.40" y="91.90" class="num" text-anchor="end">103,9</text>
<text x="408.50" y="91.90" class="num" text-anchor="end">100,7</text>
<text x="232.40" y="104.20" class="lbl" textLength="19.6" lengthAdjust="spacingAndGlyphs">РОСТ</text>
<text x="339.40" y="104.20" class="num" text-anchor="end">173</text>
<text x="408.50" y="104.20" class="num" text-anchor="end">170</text>
<text x="232.40" y="116.40" class="lbl" textLength="17.9" lengthAdjust="spacingAndGlyphs">ИМТ</text>
<text x="339.40" y="116.40" class="num" text-anchor="end">34,8</text>
<text x="408.50" y="116.40" class="num" text-anchor="end">34,8</text>
<text x="232.40" y="128.60" class="lbl" textLength="18.9" lengthAdjust="spacingAndGlyphs">ИМЯ</text>
<text x="311.15" y="128.60" class="num" text-anchor="middle">Полина</text>
<text x="375.35" y="128.60" class="num" text-anchor="middle">Жанна</text>
<text x="232.40" y="140.80" class="lbl" textLength="29.1" lengthAdjust="spacingAndGlyphs">Возраст</text>
<text x="339.40" y="140.80" class="num" text-anchor="end">57</text>
<text x="408.50" y="140.80" class="num" text-anchor="end">51</text>
<text x="232.40" y="153.30" class="lbl" textLength="35.9" lengthAdjust="spacingAndGlyphs">НЕДЕЛЯ 1</text>
<text x="339.40" y="153.30" class="num" text-anchor="end">103,7</text>
<text x="408.50" y="153.30" class="num" text-anchor="end">101,7</text>
<text x="232.40" y="165.60" class="lbl" textLength="34.0" lengthAdjust="spacingAndGlyphs">НЕДЕЛЯ2</text>
<text x="339.40" y="165.60" class="num" text-anchor="end">103,3</text>
<text x="408.50" y="165.60" class="num" text-anchor="end">101,1</text>
<text x="232.40" y="177.80" class="lbl" textLength="35.9" lengthAdjust="spacingAndGlyphs">НЕДЕЛЯ 3</text>
<text x="339.40" y="177.80" class="num" text-anchor="end">102,7</text>
<text x="408.50" y="177.80" class="num" text-anchor="end">100,1</text>
<text x="232.40" y="190.00" class="lbl" textLength="36.1" lengthAdjust="spacingAndGlyphs">НЕДЕЛЯ 4</text>
<text x="232.40" y="202.30" class="lbl" textLength="24.7" lengthAdjust="spacingAndGlyphs">Финал</text>
<text x="539.35" y="56.40" class="ttl" text-anchor="middle">ПАРА № 9</text>
<text x="530.50" y="79.00" class="nmr2" text-anchor="middle">ириса85</text>
<text x="595.30" y="79.00" class="nmr2" text-anchor="middle">ysova</text>
<text x="449.90" y="91.90" class="lbl" textLength="14.0" lengthAdjust="spacingAndGlyphs">ВЕС</text>
<text x="559.20" y="91.90" class="num" text-anchor="end">62,3</text>
<text x="628.80" y="91.90" class="num" text-anchor="end">62</text>
<text x="449.90" y="104.20" class="lbl" textLength="19.6" lengthAdjust="spacingAndGlyphs">РОСТ</text>
<text x="559.20" y="104.20" class="num" text-anchor="end">175</text>
<text x="628.80" y="104.20" class="num" text-anchor="end">164</text>
<text x="449.90" y="116.40" class="lbl" textLength="17.9" lengthAdjust="spacingAndGlyphs">ИМТ</text>
<text x="559.20" y="116.40" class="num" text-anchor="end">20,5</text>
<text x="628.80" y="116.40" class="num" text-anchor="end">22,7</text>
<text x="449.90" y="128.60" class="lbl" textLength="18.9" lengthAdjust="spacingAndGlyphs">ИМЯ</text>
<text x="530.05" y="128.60" class="num" text-anchor="middle">Ира</text>
<text x="595.40" y="128.60" class="num" text-anchor="middle">Наталья</text>
<text x="449.90" y="140.80" class="lbl" textLength="29.1" lengthAdjust="spacingAndGlyphs">Возраст</text>
<text x="559.20" y="140.80" class="num" text-anchor="end">32</text>
<text x="628.80" y="140.80" class="num" text-anchor="end">32</text>
<text x="449.90" y="153.30" class="lbl" textLength="35.9" lengthAdjust="spacingAndGlyphs">НЕДЕЛЯ 1</text>
<text x="559.20" y="153.30" class="num" text-anchor="end">59,7</text>
<text x="628.80" y="153.30" class="num" text-anchor="end">61,5</text>
<text x="449.90" y="165.60" class="lbl" textLength="34.0" lengthAdjust="spacingAndGlyphs">НЕДЕЛЯ2</text>
<text x="559.20" y="165.60" class="num" text-anchor="end">59,6</text>
<text x="628.80" y="165.60" class="num" text-anchor="end">61</text>
<text x="449.90" y="177.80" class="lbl" textLength="35.9" lengthAdjust="spacingAndGlyphs">НЕДЕЛЯ 3</text>
<text x="559.20" y="177.80" class="num" text-anchor="end">59,4</text>
<text x="628.80" y="177.80" class="num" text-anchor="end">61</text>
<text x="449.90" y="190.00" class="lbl" textLength="36.1" lengthAdjust="spacingAndGlyphs">НЕДЕЛЯ 4</text>
<text x="449.90" y="202.30" class="lbl" textLength="24.7" lengthAdjust="spacingAndGlyphs">Финал</text>
<text x="96.15" y="250.20" class="ttl" text-anchor="middle">ПАРА № 10</text>
<text x="93.50" y="265.60" class="nmr2" text-anchor="middle">marysencia</text>
<text x="158.00" y="265.60" class="nmr2" text-anchor="middle">Vasilyok79</text>
<text x="1.30" y="278.90" class="lbl" textLength="14.0" lengthAdjust="spacingAndGlyphs">ВЕС</text>
<text x="120.20" y="278.90" class="num" text-anchor="end">85,8</text>
<text x="191.40" y="278.90" class="num" text-anchor="end">89</text>
<text x="1.30" y="291.20" class="lbl" textLength="19.6" lengthAdjust="spacingAndGlyphs">РОСТ</text>
<text x="120.20" y="291.20" class="num" text-anchor="end">160</text>
<text x="191.40" y="291.20" class="num" text-anchor="end">165</text>
<text x="1.30" y="303.40" class="lbl" textLength="17.9" lengthAdjust="spacingAndGlyphs">ИМТ</text>
<text x="120.20" y="303.40" class="num" text-anchor="end">33,2</text>
<text x="191.40" y="303.40" class="num" text-anchor="end">32,9</text>
<text x="1.30" y="315.60" class="lbl" textLength="18.9" lengthAdjust="spacingAndGlyphs">ИМЯ</text>
<text x="91.55" y="315.60" class="num" text-anchor="middle">Маруся</text>
<text x="157.20" y="315.60" class="num" text-anchor="middle">Наталия</text>
<text x="1.30" y="328.00" class="lbl" textLength="29.1" lengthAdjust="spacingAndGlyphs">Возраст</text>
<text x="120.20" y="328.00" class="num" text-anchor="end">28</text>
<text x="191.40" y="328.00" class="num" text-anchor="end">38</text>
<text x="1.30" y="340.40" class="lbl" textLength="35.9" lengthAdjust="spacingAndGlyphs">НЕДЕЛЯ 1</text>
<text x="120.20" y="340.40" class="num" text-anchor="end">85,1</text>
<text x="191.40" y="340.40" class="num" text-anchor="end">89</text>
<text x="1.30" y="352.60" class="lbl" textLength="34.0" lengthAdjust="spacingAndGlyphs">НЕДЕЛЯ2</text>
<text x="120.20" y="352.60" class="num" text-anchor="end">85,3</text>
<text x="191.40" y="352.60" class="num" text-anchor="end">88,5</text>
<text x="1.30" y="364.90" class="lbl" textLength="35.9" lengthAdjust="spacingAndGlyphs">НЕДЕЛЯ 3</text>
<text x="120.20" y="364.90" class="num" text-anchor="end">85,1</text>
<text x="191.40" y="364.90" class="num" text-anchor="end">88</text>
<text x="1.30" y="377.20" class="lbl" textLength="36.1" lengthAdjust="spacingAndGlyphs">НЕДЕЛЯ 4</text>
<text x="1.30" y="389.40" class="lbl" textLength="24.7" lengthAdjust="spacingAndGlyphs">Финал</text>
<text x="320.45" y="250.20" class="ttl" text-anchor="middle">ПАРА № 11</text>
<text x="226.90" y="265.40" class="nmr2">Вихрастая</text>
<text x="284.00" y="265.40" class="nmr2" style="fill:#6a0000;stroke:#6a0000">голова</text>
<text x="375.60" y="265.50" class="nmr2" text-anchor="middle">nvzaharova</text>
<text x="232.40" y="278.90" class="lbl" textLength="14.0" lengthAdjust="spacingAndGlyphs">ВЕС</text>
<text x="339.40" y="278.90" class="numr" text-anchor="end" style="fill:#6e0000;stroke:#6e0000">64,8</text>
<text x="408.50" y="278.90" class="num" text-anchor="end">57,4</text>
<text x="232.40" y="291.20" class="lbl" textLength="19.6" lengthAdjust="spacingAndGlyphs">РОСТ</text>
<text x="339.40" y="291.20" class="numr" text-anchor="end" style="fill:#6e0000;stroke:#6e0000">170</text>
<text x="408.50" y="291.20" class="num" text-anchor="end">164</text>
<text x="232.40" y="303.40" class="lbl" textLength="17.9" lengthAdjust="spacingAndGlyphs">ИМТ</text>
<text x="339.40" y="303.40" class="numr" text-anchor="end" style="fill:#6e0000;stroke:#6e0000">22,4</text>
<text x="408.50" y="303.40" class="num" text-anchor="end">21,3</text>
<text x="232.40" y="315.60" class="lbl" textLength="18.9" lengthAdjust="spacingAndGlyphs">ИМЯ</text>
<text x="311.15" y="315.60" class="numr" text-anchor="middle" style="fill:#6e0000;stroke:#6e0000">Настя</text>
<text x="375.35" y="315.60" class="num" text-anchor="middle">Наталия</text>
<text x="232.40" y="328.00" class="lbl" textLength="29.1" lengthAdjust="spacingAndGlyphs">Возраст</text>
<text x="339.40" y="328.00" class="numr" text-anchor="end" style="fill:#6e0000;stroke:#6e0000">33</text>
<text x="408.50" y="328.00" class="num" text-anchor="end">40</text>
<text x="232.40" y="340.40" class="lbl" textLength="35.9" lengthAdjust="spacingAndGlyphs">НЕДЕЛЯ 1</text>
<text x="408.50" y="340.40" class="num" text-anchor="end">57,7</text>
<text x="232.40" y="352.60" class="lbl" textLength="34.0" lengthAdjust="spacingAndGlyphs">НЕДЕЛЯ2</text>
<text x="408.50" y="352.60" class="num" text-anchor="end">58,7</text>
<text x="232.40" y="364.90" class="lbl" textLength="35.9" lengthAdjust="spacingAndGlyphs">НЕДЕЛЯ 3</text>
<text x="232.40" y="377.20" class="lbl" textLength="36.1" lengthAdjust="spacingAndGlyphs">НЕДЕЛЯ 4</text>
<text x="232.40" y="389.40" class="lbl" textLength="24.7" lengthAdjust="spacingAndGlyphs">Финал</text>
<text x="539.35" y="250.20" class="ttl" text-anchor="middle">ПАРА № 12</text>
<text x="502.00" y="265.60" class="nmr3">Olya_Samara</text>
<text x="563.00" y="265.60" class="nmr3">Юля_Ю_Ш</text>
<text x="449.90" y="278.90" class="lbl" textLength="14.0" lengthAdjust="spacingAndGlyphs">ВЕС</text>
<text x="559.20" y="278.90" class="num" text-anchor="end">64,7</text>
<text x="628.80" y="278.90" class="num" text-anchor="end">64,4</text>
<text x="449.90" y="291.20" class="lbl" textLength="19.6" lengthAdjust="spacingAndGlyphs">РОСТ</text>
<text x="559.20" y="291.20" class="num" text-anchor="end">165</text>
<text x="628.80" y="291.20" class="num" text-anchor="end">164</text>
<text x="449.90" y="303.40" class="lbl" textLength="17.9" lengthAdjust="spacingAndGlyphs">ИМТ</text>
<text x="559.20" y="303.40" class="num" text-anchor="end">23,2</text>
<text x="628.80" y="303.40" class="num" text-anchor="end">23,7</text>
<text x="449.90" y="315.60" class="lbl" textLength="18.9" lengthAdjust="spacingAndGlyphs">ИМЯ</text>
<text x="449.90" y="328.00" class="lbl" textLength="29.1" lengthAdjust="spacingAndGlyphs">Возраст</text>
<text x="559.20" y="328.00" class="num" text-anchor="end">40</text>
<text x="628.80" y="328.00" class="num" text-anchor="end">33</text>
<text x="449.90" y="340.40" class="lbl" textLength="35.9" lengthAdjust="spacingAndGlyphs">НЕДЕЛЯ 1</text>
<text x="559.20" y="340.40" class="num" text-anchor="end">65,8</text>
<text x="628.80" y="340.40" class="num" text-anchor="end">65,4</text>
<text x="449.90" y="352.60" class="lbl" textLength="34.0" lengthAdjust="spacingAndGlyphs">НЕДЕЛЯ2</text>
<text x="559.20" y="352.60" class="num" text-anchor="end">64,9</text>
<text x="628.80" y="352.60" class="num" text-anchor="end">63,7</text>
<text x="449.90" y="364.90" class="lbl" textLength="35.9" lengthAdjust="spacingAndGlyphs">НЕДЕЛЯ 3</text>
<text x="559.20" y="364.90" class="num" text-anchor="end">64,2</text>
<text x="628.80" y="364.90" class="num" text-anchor="end">63,1</text>
<text x="449.90" y="377.20" class="lbl" textLength="36.1" lengthAdjust="spacingAndGlyphs">НЕДЕЛЯ 4</text>
<text x="449.90" y="389.40" class="lbl" textLength="24.7" lengthAdjust="spacingAndGlyphs">Финал</text>

<g id="logo">
  <defs>
    <radialGradient id="ag" cx="0.45" cy="0.62" r="0.6">
      <stop offset="0" stop-color="#ffd000"/>
      <stop offset="0.55" stop-color="#ffb400"/>
      <stop offset="1" stop-color="#f07800"/>
    </radialGradient>
    <linearGradient id="gg" x1="0.1" y1="0.1" x2="0.9" y2="0.9">
      <stop offset="0" stop-color="#3ca830"/>
      <stop offset="0.6" stop-color="#7cc020"/>
      <stop offset="1" stop-color="#b8d010" stop-opacity="0.6"/>
    </linearGradient>
    <linearGradient id="rg" x1="0" y1="0" x2="1" y2="0">
      <stop offset="0" stop-color="#ff5a10"/>
      <stop offset="1" stop-color="#e02008"/>
    </linearGradient>
    <filter id="glow" x="-20%" y="-50%" width="140%" height="200%">
      <feGaussianBlur in="SourceAlpha" stdDeviation="2.3" result="a2"/>
      <feComponentTransfer in="a2" result="m2"><feFuncA type="linear" slope="4" intercept="0"/></feComponentTransfer>
      <feFlood flood-color="#cdcdcd" result="g"/>
      <feComposite in="g" in2="m2" operator="in" result="ring"/>
      <feGaussianBlur in="SourceAlpha" stdDeviation="1.7" result="a1"/>
      <feComponentTransfer in="a1" result="m1"><feFuncA type="linear" slope="8" intercept="0"/></feComponentTransfer>
      <feFlood flood-color="#ffffff" result="w"/>
      <feComposite in="w" in2="m1" operator="in" result="white"/>
      <feMerge><feMergeNode in="ring"/><feMergeNode in="white"/><feMergeNode in="SourceGraphic"/></feMerge>
    </filter>
  </defs>
  <path d="M592.5 441.5 C597 440 603.5 442.5 603 451 C602.6 458 599 463.5 594 463.6 C592 463.6 591 462.8 589.5 462.8 Z" fill="url(#rg)"/>
  <path d="M589.5 441.8 C584 439.5 578 443.5 578.2 451.5 C578.4 458.5 583 463.8 588 463.6 C591 463.5 592.5 463 594.2 461 C596.6 457 597 446 592.5 442 C591.5 441.5 590.5 441.5 589.5 441.8 Z" fill="url(#ag)"/>
  <path d="M589.5 441.8 C584 439.5 578.2 443.5 578.2 450.5 C581 452 586 450 589 447.5 C591.5 445.5 592.5 443.5 592.8 442.3 C591.5 441.5 590.5 441.5 589.5 441.8 Z" fill="url(#gg)"/>
  <path d="M580 437.2 C583 435 587 435.5 589.2 439.6 C585.5 440.5 582 439.8 580 437.2 Z" fill="#6cc040"/>
  <path d="M588.2 432 C590.5 433 592.5 436 591.2 439.4 C589 438 587.5 435 588.2 432 Z" fill="#f0b020"/>
  <path d="M591.2 440.8 L596.6 436.6" stroke="#d8843a" stroke-width="1.1" stroke-linecap="round"/>
  <g filter="url(#glow)">
    <text x="611.0" y="458.6" class="logo1" textLength="54" lengthAdjust="spacingAndGlyphs">diets</text>
    <text x="665.6" y="458.6" class="logo1">.</text>
    <text x="669.6" y="458.6" class="logo2" textLength="22.4" lengthAdjust="spacingAndGlyphs">ru</text>
  </g>
</g>

</svg></body></html>
